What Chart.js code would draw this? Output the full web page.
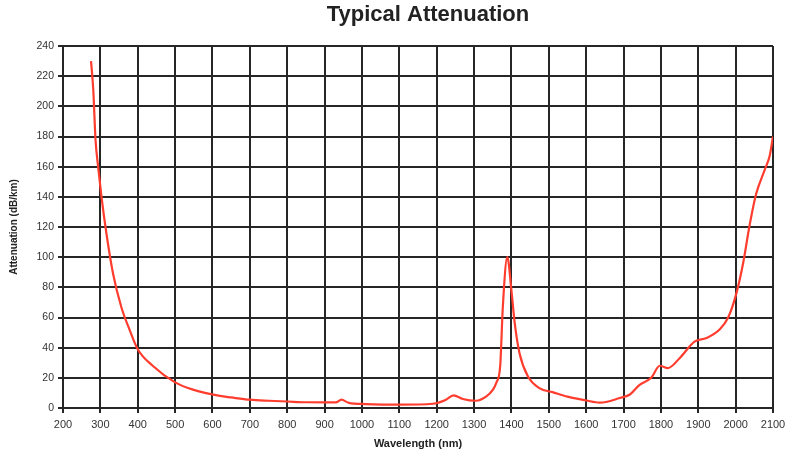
<!DOCTYPE html>
<html>
<head>
<meta charset="utf-8">
<title>Typical Attenuation</title>
<script src="https://cdn.jsdelivr.net/npm/chart.js@4.4.1/dist/chart.umd.min.js"></script>
<style>
  html, body { margin: 0; padding: 0; background: #ffffff; }
  #wrap { width: 787px; height: 454px; position: relative; }
</style>
</head>
<body>
<div id="wrap"><canvas id="chart" width="787" height="454"></canvas></div>
<script>
// Spectral attenuation of the fibre
const chartTitle = 'Typical Attenuation';
const xAxisTitle = 'Wavelength (nm)';
const yAxisTitle = 'Attenuation (dB/km)';

// Wavelength samples (nm)
const wavelengths = [
  275, 281, 287, 294, 303, 316, 334, 356, 378, 400,
  440, 500, 550, 620, 650, 700, 750, 800, 850, 930,
  945, 965, 1010, 1100, 1190, 1225, 1245, 1270, 1305, 1333,
  1350, 1360, 1370, 1377, 1389, 1400, 1409, 1422, 1444, 1476,
  1510, 1550, 1600, 1636, 1690, 1716, 1743, 1774, 1797, 1819,
  1850, 1890, 1922, 1957, 1980, 2002, 2020, 2038, 2055, 2078,
  2091, 2100
];

// Attenuation at each wavelength (dB/km)
const attenuation = [
  230, 211, 178, 160, 140, 116, 89, 67, 52, 39,
  28, 17, 12, 8, 7, 5.5, 4.8, 4.3, 3.8, 3.7,
  5.5, 3.4, 2.6, 2.2, 2.8, 5.5, 8.4, 6, 4.8, 7.7,
  12, 17, 28, 67, 100, 78, 56, 36, 21, 13,
  10.5, 7.5, 5, 3.5, 6.6, 8.8, 15.4, 20, 28, 26.5,
  33, 44, 46.4, 52, 60, 76, 96, 122, 142, 158,
  167, 180
];

// Axis tick ranges
const xTicks = { min: 200, max: 2100, step: 100 };
const yTicks = { min: 0, max: 240, step: 20 };

const points = wavelengths.map((w, i) => ({ x: w, y: attenuation[i] }));

const FONT = '"Liberation Sans", Arial, Helvetica, sans-serif';
const GRID = '#262626';

// Heading drawn above the plot
const headingPlugin = {
  id: 'heading',
  afterDraw(chart) {
    const ctx = chart.ctx;
    ctx.save();
    ctx.font = 'bold 22px ' + FONT;
    ctx.fillStyle = '#222222';
    ctx.textAlign = 'center';
    ctx.textBaseline = 'middle';
    ctx.fillText(chartTitle, 428, 15);
    ctx.restore();
  }
};

new Chart(document.getElementById('chart'), {
  type: 'line',
  data: {
    datasets: [{
      data: points,
      borderColor: '#ff3d2e',
      borderWidth: 2.2,
      pointRadius: 0,
      fill: false,
      tension: 0.4,
      cubicInterpolationMode: 'monotone'
    }]
  },
  options: {
    responsive: false,
    animation: false,
    layout: { padding: { top: 46, right: 14, left: 0, bottom: 0 } },
    plugins: {
      legend: { display: false },
      tooltip: { enabled: false },
      title: { display: false }
    },
    scales: {
      x: {
        type: 'linear',
        min: xTicks.min,
        max: xTicks.max,
        afterFit(scale) {
          scale.height = 46;
          scale.paddingLeft = 0;
          scale.paddingRight = 0;
        },
        ticks: {
          stepSize: xTicks.step,
          autoSkip: false,
          maxRotation: 0,
          padding: 5,
          color: '#333333',
          font: { family: FONT, size: 11 },
          callback: (v) => String(v)
        },
        grid: { color: GRID, lineWidth: 2, tickLength: 5, tickColor: GRID },
        border: { color: GRID, width: 2 },
        title: {
          display: true,
          text: xAxisTitle,
          color: '#222222',
          font: { family: FONT, size: 11, weight: 'bold' },
          padding: { top: 0, bottom: 3 }
        }
      },
      y: {
        type: 'linear',
        min: yTicks.min,
        max: yTicks.max,
        afterFit(scale) {
          scale.width = 63;
          scale.paddingTop = 0;
          scale.paddingBottom = 0;
        },
        ticks: {
          stepSize: yTicks.step,
          autoSkip: false,
          padding: 4,
          color: '#333333',
          font: { family: FONT, size: 10.5 },
          callback: (v) => String(v)
        },
        grid: { color: GRID, lineWidth: 2, tickLength: 5, tickColor: GRID },
        border: { color: GRID, width: 2 },
        title: {
          display: true,
          text: yAxisTitle,
          color: '#222222',
          font: { family: FONT, size: 10, weight: 'bold' },
          padding: { top: 8, bottom: 0 }
        }
      }
    }
  },
  plugins: [headingPlugin]
});
</script>
</body>
</html>
